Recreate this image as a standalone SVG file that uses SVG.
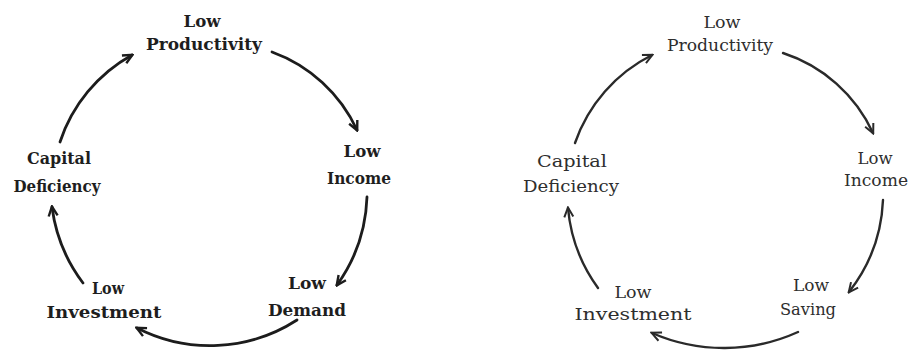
<svg xmlns="http://www.w3.org/2000/svg" width="911" height="350" viewBox="0 0 911 350">
  <style>
    text { font-family: "DejaVu Serif", "Liberation Serif", serif; font-size: 16px; text-anchor: middle; }
    .l text { fill: #1e1e1e; font-weight: bold; }
    .r text { fill: #2e2e2e; }
    .arrow { fill: none; stroke: #1c1c1c; stroke-width: 2.8; stroke-linecap: round; marker-end: url(#head); }
    .arrow.r2 { stroke: #2a2a2a; stroke-width: 2.4; marker-end: url(#head2); }
  </style>
  <defs>
    <marker id="head" viewBox="0 0 12 12" refX="10" refY="6" markerWidth="12" markerHeight="12" markerUnits="userSpaceOnUse" orient="auto">
      <path d="M1,1.5 L10.5,6 L1,10.5" fill="none" stroke="#1c1c1c" stroke-width="2.4" stroke-linejoin="miter"/>
    </marker>
    <marker id="head2" viewBox="0 0 12 12" refX="10" refY="6" markerWidth="12" markerHeight="12" markerUnits="userSpaceOnUse" orient="auto">
      <path d="M1,1.5 L10.5,6 L1,10.5" fill="none" stroke="#2a2a2a" stroke-width="2" stroke-linejoin="miter"/>
    </marker>
  </defs>
  <rect width="911" height="350" fill="#ffffff"/>

  <g id="connectors">
    <path class="arrow" d="M60,142 A155,155 0 0 1 132,55"/>
    <path class="arrow" d="M272,52 A150,150 0 0 1 357,130"/>
    <path class="arrow" d="M367,197 A160,160 0 0 1 337,285"/>
    <path class="arrow" d="M297,320 A160,160 0 0 1 137,328"/>
    <path class="arrow" d="M83,283 A160,160 0 0 1 52,207"/>

    <path class="arrow r2" d="M575,143 A155,155 0 0 1 652,55"/>
    <path class="arrow r2" d="M783,53 A150,150 0 0 1 873,133"/>
    <path class="arrow r2" d="M883,200 A160,160 0 0 1 849,292"/>
    <path class="arrow r2" d="M798,332 A180,180 0 0 1 652,333"/>
    <path class="arrow r2" d="M598,288 A160,160 0 0 1 568,208"/>
  </g>

  <g class="l">
    <g id="l-productivity"><text x="202" y="27" textLength="37" lengthAdjust="spacingAndGlyphs">Low</text><text x="204" y="50" textLength="116" lengthAdjust="spacingAndGlyphs">Productivity</text></g>
    <g id="l-income"><text x="362" y="157" textLength="37" lengthAdjust="spacingAndGlyphs">Low</text><text x="359" y="184" textLength="64" lengthAdjust="spacingAndGlyphs">Income</text></g>
    <g id="l-demand"><text x="307" y="289" textLength="38" lengthAdjust="spacingAndGlyphs">Low</text><text x="307" y="316" textLength="78" lengthAdjust="spacingAndGlyphs">Demand</text></g>
    <g id="l-investment"><text x="108" y="294" textLength="32" lengthAdjust="spacingAndGlyphs">Low</text><text x="104" y="318" textLength="115" lengthAdjust="spacingAndGlyphs">Investment</text></g>
    <g id="l-capital"><text x="59" y="164" textLength="64" lengthAdjust="spacingAndGlyphs">Capital</text><text x="57" y="192" textLength="87" lengthAdjust="spacingAndGlyphs">Deficiency</text></g>
  </g>

  <g class="r">
    <g id="r-productivity"><text x="722" y="28" textLength="37" lengthAdjust="spacingAndGlyphs">Low</text><text x="720" y="51" textLength="106" lengthAdjust="spacingAndGlyphs">Productivity</text></g>
    <g id="r-income"><text x="875" y="164" textLength="35" lengthAdjust="spacingAndGlyphs">Low</text><text x="844" y="186" textLength="64" lengthAdjust="spacingAndGlyphs" style="text-anchor:start">Income</text></g>
    <g id="r-saving"><text x="811" y="291" textLength="36" lengthAdjust="spacingAndGlyphs">Low</text><text x="808" y="315" textLength="56" lengthAdjust="spacingAndGlyphs">Saving</text></g>
    <g id="r-investment"><text x="633" y="298" textLength="37" lengthAdjust="spacingAndGlyphs">Low</text><text x="633" y="320" textLength="117" lengthAdjust="spacingAndGlyphs">Investment</text></g>
    <g id="r-capital"><text x="572" y="167" textLength="70" lengthAdjust="spacingAndGlyphs">Capital</text><text x="571" y="192" textLength="96" lengthAdjust="spacingAndGlyphs">Deficiency</text></g>
  </g>
</svg>
